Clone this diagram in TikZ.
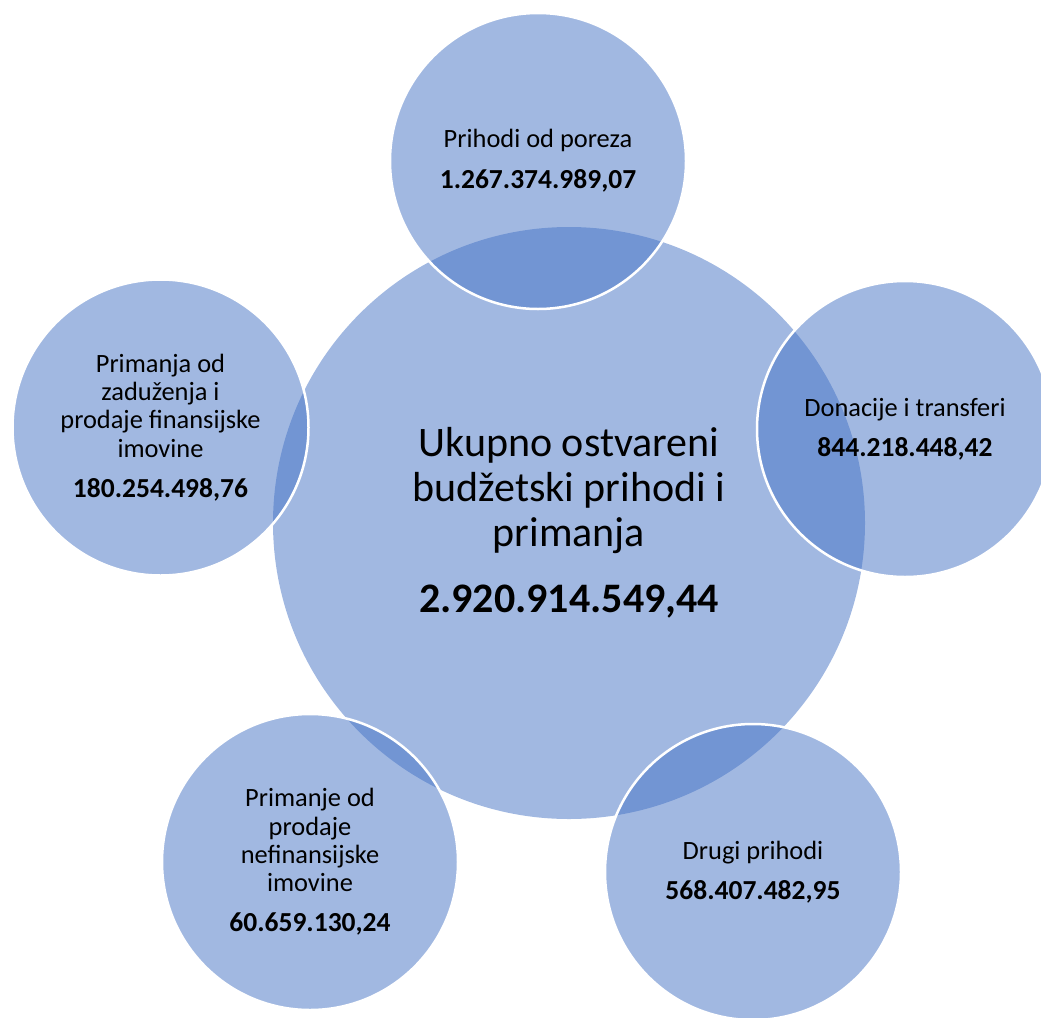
\documentclass[tikz,border=0pt]{standalone}
\usepackage{fontspec}
\setmainfont{Carlito}
\definecolor{accent}{HTML}{4472C4}
\tikzset{
  bubble/.style={circle, inner sep=0pt, fill=accent, fill opacity=0.5, text opacity=1,
    text=black, align=center},
  hub/.style={bubble, minimum size=592pt, font=\fontsize{42}{45}\selectfont},
  sat/.style={bubble, minimum size=296pt, draw=white, line width=2.5pt,
    font=\fontsize{26.4}{28.3}\selectfont},
}
\begin{document}
\begin{tikzpicture}[x=1pt,y=-1pt]
\useasboundingbox (0,0) rectangle (1041,1017);
\clip (0,0) rectangle (1041,1017);
\node[hub] (hub) at (569,523) {Ukupno ostvareni\\budžetski prihodi i\\primanja\\[21pt]{\fontsize{42}{45}\selectfont\bfseries 2.920.914.549,44}};
\node[sat] (top) at (538,161) {Prihodi od poreza\\[12.7pt]{\fontsize{27.5}{28.3}\selectfont\bfseries 1.267.374.989,07}};
\node[sat] (right) at (905,429) {Donacije i transferi\\[11.7pt]{\fontsize{27.5}{28.3}\selectfont\bfseries 844.218.448,42}};
\node[sat] (right2) at (753,872) {Drugi prihodi\\[11.7pt]{\fontsize{27.5}{28.3}\selectfont\bfseries 568.407.482,95}};
\node[sat] (left2) at (310,862) {Primanje od\\prodaje\\nefinansijske\\imovine\\[11.7pt]{\fontsize{27.5}{28.3}\selectfont\bfseries 60.659.130,24}};
\node[sat] (left) at (160.5,427.5) {Primanja od\\zaduženja i\\prodaje finansijske\\imovine\\[11.7pt]{\fontsize{27.5}{28.3}\selectfont\bfseries 180.254.498,76}};
\end{tikzpicture}
\end{document}
